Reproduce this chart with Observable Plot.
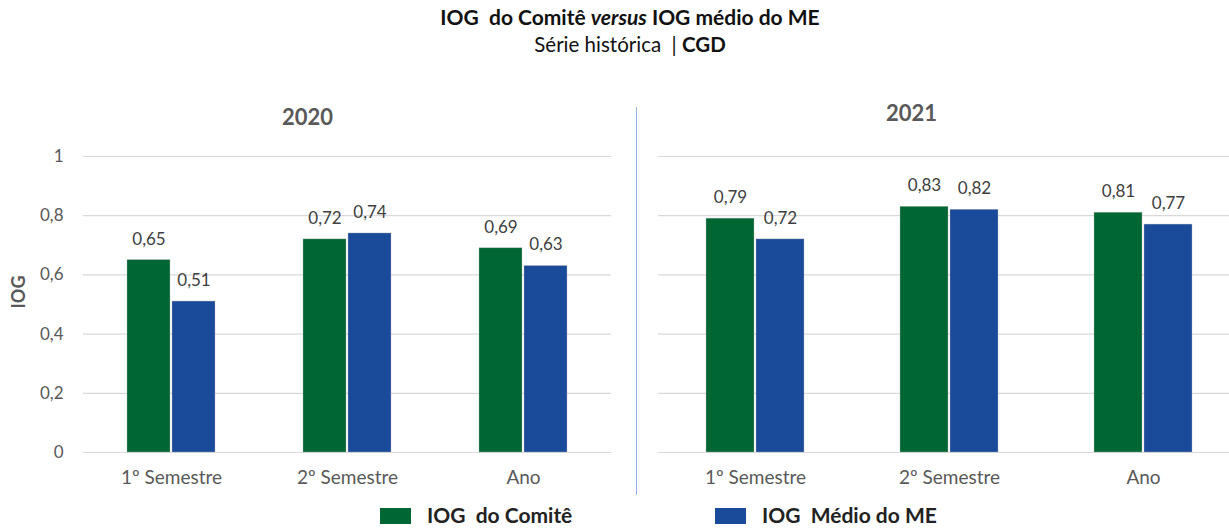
<!DOCTYPE html>
<html><head><meta charset="utf-8">
<script src="https://cdn.jsdelivr.net/npm/d3@7"></script>
<script src="https://cdn.jsdelivr.net/npm/@observablehq/plot@0.6"></script>
<style>
html,body{margin:0;padding:0;overflow:hidden;background:#fff;}
#root{position:relative;width:1229px;height:529px;font-family:Lato,"Open Sans",sans-serif;overflow:hidden;}
.abs{position:absolute;white-space:nowrap;}
#title{left:630px;top:4px;transform:translateX(-50%);font-size:21px;font-weight:bold;color:#111;}
#subtitle{left:630px;top:32px;transform:translateX(-50%);font-size:20.5px;color:#111;}
#sep{left:636px;top:107px;width:1px;height:388px;background:#8fb0e0;}
.sw{position:absolute;width:31px;height:16px;}
.lt{position:absolute;font-size:21px;font-weight:bold;color:#222;}
</style></head><body>
<div id="root">
  <div id="title" class="abs">IOG&nbsp; do Comitê <i>versus</i> IOG médio do ME</div>
  <div id="subtitle" class="abs">Série histórica &nbsp;| <b>CGD</b></div>
  <div id="p2020" class="abs" style="left:0;top:90px;width:640px;"></div>
  <div id="p2021" class="abs" style="left:640px;top:90px;width:600px;"></div>
  <div id="sep" class="abs"></div>
  <div id="legend"></div>
</div>
<script>
const categories = ["1º Semestre", "2º Semestre", "Ano"];
const series = ["IOG  do Comitê", "IOG  Médio do ME"];
const colors = ["#006633", "#1a4a9a"];
const years = ["2020", "2021"];
const comite2020 = [0.65, 0.72, 0.69];
const medio2020 = [0.51, 0.74, 0.63];
const comite2021 = [0.79, 0.83, 0.81];
const medio2021 = [0.72, 0.82, 0.77];
const yTicks = [0, 0.2, 0.4, 0.6, 0.8, 1];

const fmt = v => String(v).replace(".", ",");

function rows(comite, medio) {
  const out = [];
  categories.forEach((c, i) => {
    out.push({cat: c, s: series[0], v: comite[i]});
    out.push({cat: c, s: series[1], v: medio[i]});
  });
  return out;
}

function panel(year, comite, medio, o) {
  const data = rows(comite, medio);
  const marks = [
    Plot.gridY(yTicks, {stroke: "#d9d9d9", strokeOpacity: 1, strokeWidth: 1.2}),
    Plot.barY(data, {fx: "cat", x: "s", y: "v", fill: "s", stroke: "#b8b8b8", strokeWidth: 0.6, strokeOpacity: 0.6}),
    Plot.text(data, {fx: "cat", x: "s", y: "v", text: d => fmt(d.v), dy: -21, fontSize: 17, fill: "#404040"}),
    Plot.axisFx({anchor: "bottom", tickSize: 0, tickPadding: 18, label: null, fontSize: 19, fill: "#595959"}),
    Plot.text([year], {fx: () => categories[1], frameAnchor: "top", dy: o.titleDy, dx: o.titleDx, fontSize: 22, fontWeight: "bold", fill: "#595959"})
  ];
  if (o.showY) {
    marks.push(Plot.axisY({ticks: yTicks, tickFormat: fmt, tickSize: 0, tickPadding: 20, label: null, fontSize: 17, fill: "#595959"}));
    marks.push(Plot.text(["IOG"], {fx: () => categories[0], frameAnchor: "left", rotate: -90, dx: -64, dy: 4, fontSize: 18, fontWeight: "bold", fill: "#595959"}));
  }
  return Plot.plot({
    width: o.width, height: 402,
    marginLeft: o.ml, marginRight: o.mr, marginTop: 66, marginBottom: 40,
    style: {fontFamily: "Lato, sans-serif", background: "transparent", overflow: "visible", color: "#595959", maxWidth: "none"},
    fx: {domain: categories, padding: 0, label: null},
    x: {domain: series, axis: null, paddingInner: 0.045, paddingOuter: 0.94},
    y: {domain: [0, 1], axis: o.showY ? undefined : null},
    color: {domain: series, range: colors},
    marks
  });
}

document.getElementById("p2020").appendChild(panel(years[0], comite2020, medio2020, {width: 640, ml: 82, mr: 28, showY: true, titleDx: -40, titleDy: -47}));
document.getElementById("p2021").appendChild(panel(years[1], comite2021, medio2021, {width: 600, ml: 17, mr: 0, showY: false, titleDx: -38, titleDy: -51}));

const legend = document.getElementById("legend");
const legendPos = [{sw: 380, tx: 427}, {sw: 715, tx: 762}];
series.forEach((s, i) => {
  const sw = document.createElement("div");
  sw.className = "sw";
  sw.style.left = legendPos[i].sw + "px";
  sw.style.top = "508px";
  sw.style.background = colors[i];
  legend.appendChild(sw);
  const t = document.createElement("div");
  t.className = "lt";
  t.style.left = legendPos[i].tx + "px";
  t.style.top = "502px";
  t.style.whiteSpace = "pre";
  t.textContent = s;
  legend.appendChild(t);
});
</script>
</body></html>
